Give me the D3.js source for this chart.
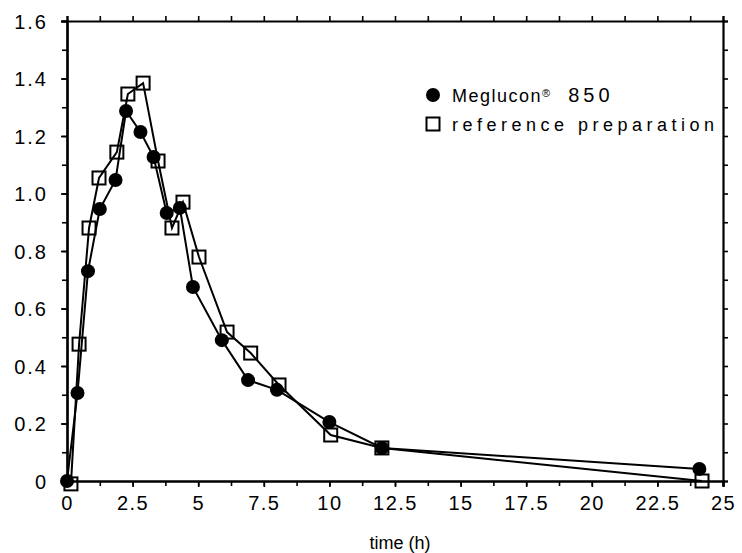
<!DOCTYPE html>
<html>
<head>
<meta charset="utf-8">
<script src="https://cdn.jsdelivr.net/npm/d3@7"></script>
<style>
  body { margin: 0; background: #fff; }
  svg text { font-family: "Liberation Sans", Arial, sans-serif; fill: #000; }
</style>
</head>
<body>
<div id="chart"></div>
<script>
// values
var megTime = [0, 0.4, 0.8, 1.25, 1.85, 2.25, 2.8, 3.3, 3.8, 4.3, 4.8, 5.9, 6.9, 8, 10, 12, 24.1];
var megConc = [0, 0.306, 0.73, 0.946, 1.047, 1.287, 1.214, 1.127, 0.932, 0.95, 0.675, 0.49, 0.351, 0.317, 0.205, 0.115, 0.042];
var refTime = [0.15, 0.46, 0.84, 1.22, 1.9, 2.32, 2.9, 3.47, 4.0, 4.42, 5.03, 6.1, 7.0, 8.08, 10.05, 12, 24.2];
var refConc = [-0.01, 0.476, 0.88, 1.054, 1.144, 1.346, 1.384, 1.113, 0.88, 0.97, 0.779, 0.518, 0.445, 0.334, 0.16, 0.115, 0.0];
var xTicks = [0, 2.5, 5, 7.5, 10, 12.5, 15, 17.5, 20, 22.5, 25];
var yTicks = [0, 0.2, 0.4, 0.6, 0.8, 1.0, 1.2, 1.4, 1.6];
var legendNames = ["Meglucon", "reference preparation"];

var W = 742, H = 553;
var svg = d3.select("#chart").append("svg").attr("width", W).attr("height", H);

var x = d3.scaleLinear().domain([0, 25]).range([67, 723]);
var y = d3.scaleLinear().domain([0, 1.6]).range([481, 21]);

var minorX = d3.range(0, 25.01, 1.25);
var minorY = d3.range(0, 1.601, 0.1);

// minor ticks on all four sides
svg.append("g").attr("transform", "translate(0,481)")
  .call(d3.axisBottom(x).tickValues(minorX).tickSize(5).tickFormat(""));
svg.append("g").attr("transform", "translate(0,21)")
  .call(d3.axisTop(x).tickValues(minorX).tickSize(5).tickFormat(""));
svg.append("g").attr("transform", "translate(67,0)")
  .call(d3.axisLeft(y).tickValues(minorY).tickSize(5).tickFormat(""));
svg.append("g").attr("transform", "translate(723,0)")
  .call(d3.axisRight(y).tickValues(minorY).tickSize(5).tickFormat(""));

// labelled axes
var xAxis = svg.append("g").attr("transform", "translate(0,481)")
  .call(d3.axisBottom(x).tickValues(xTicks).tickSize(6).tickPadding(9).tickFormat(d => String(d)));
var yAxis = svg.append("g").attr("transform", "translate(67,0)")
  .call(d3.axisLeft(y).tickValues(yTicks).tickSize(6).tickPadding(13).tickFormat(d => d === 0 ? "0" : d3.format(".1f")(d)));

svg.selectAll(".domain").attr("stroke", "#000").attr("stroke-width", 2.2);
svg.selectAll(".tick line").attr("stroke", "#000").attr("stroke-width", 1.6);
xAxis.selectAll("text").style("font-size", "20px").style("letter-spacing", "1.5px");
yAxis.selectAll("text").style("font-size", "20px").style("letter-spacing", "2px").attr("dy", "0.35em");

svg.append("text").attr("x", 400).attr("y", 549).attr("text-anchor", "middle")
  .style("font-size", "18px").text("time (h)");

var meg = megTime.map((t, i) => ({t: t, v: megConc[i]}));
var ref = refTime.map((t, i) => ({t: t, v: refConc[i]}));

var line = d3.line().x(d => x(d.t)).y(d => y(d.v));

svg.append("path").datum(ref).attr("d", line)
  .attr("fill", "none").attr("stroke", "#000").attr("stroke-width", 2);
svg.append("path").datum(meg).attr("d", line)
  .attr("fill", "none").attr("stroke", "#000").attr("stroke-width", 2);

svg.selectAll(".sq").data(ref).join("rect").attr("class", "sq")
  .attr("x", d => x(d.t) - 6.5).attr("y", d => y(d.v) - 6.5)
  .attr("width", 13).attr("height", 13)
  .attr("fill", "none").attr("stroke", "#000").attr("stroke-width", 2);
svg.selectAll(".dot").data(meg).join("circle").attr("class", "dot")
  .attr("cx", d => x(d.t)).attr("cy", d => y(d.v)).attr("r", 7)
  .attr("fill", "#000");

// legend
svg.append("circle").attr("cx", 433).attr("cy", 95).attr("r", 7).attr("fill", "#000");
svg.append("rect").attr("x", 426.5).attr("y", 117.5).attr("width", 13).attr("height", 13)
  .attr("fill", "none").attr("stroke", "#000").attr("stroke-width", 2);
var t1 = svg.append("text").attr("x", 452).attr("y", 102).style("font-size", "18px");
t1.append("tspan").style("letter-spacing", "1.5px").text(legendNames[0]);
t1.append("tspan").attr("dy", -5).style("font-size", "11px").text("\u00AE");
t1.append("tspan").attr("dy", 5).attr("dx", 18).style("font-size", "20px").style("letter-spacing", "4px").text("850");
svg.append("text").attr("x", 452).attr("y", 131).style("font-size", "18px")
  .attr("textLength", 262).attr("lengthAdjust", "spacing").text(legendNames[1]);
</script>
</body>
</html>
